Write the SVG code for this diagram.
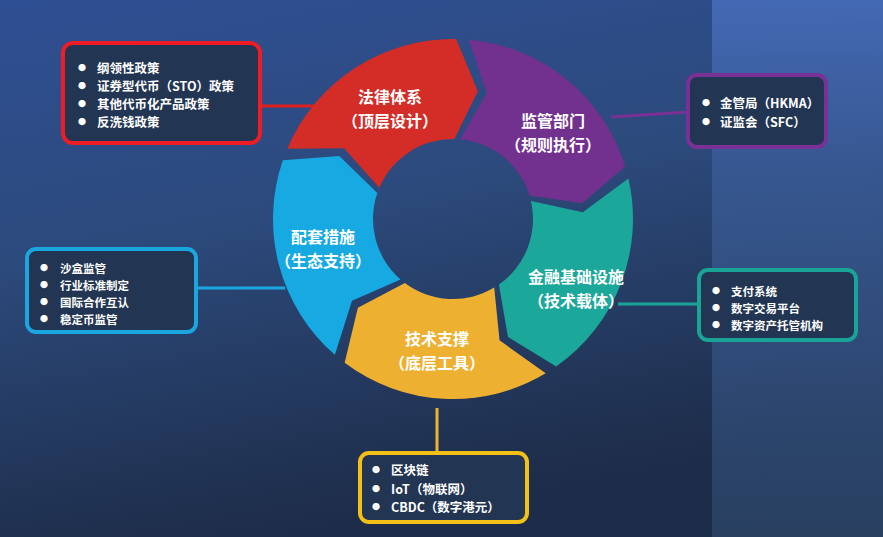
<svg xmlns="http://www.w3.org/2000/svg" width="883" height="537" viewBox="0 0 883 537">
<defs>
<linearGradient id="bg" x1="0" y1="0" x2="0.3" y2="1"><stop offset="0" stop-color="#2f4f94"/><stop offset="0.45" stop-color="#2c4a7c"/><stop offset="1" stop-color="#1d2c48"/></linearGradient>
<linearGradient id="bg2" x1="0" y1="0" x2="0" y2="1"><stop offset="0" stop-color="#4a70bf"/><stop offset="0.3" stop-color="#3a5c99"/><stop offset="1" stop-color="#2b4466"/></linearGradient>
<path id="seg" d="M0,-180 A180,180 0 0 1 166.9,-67.4 L127.2,-27 L74.2,-30 A80,80 0 0 0 0,-80 L22.6,-128 Z"/>
</defs>
<style>
.t{font-family:"Noto Sans CJK SC","Liberation Sans",sans-serif;font-weight:bold;fill:#fff}
.c{font-size:16px;text-anchor:middle}
.b{font-size:12.5px}
.s{font-size:11.5px}
.d{font-size:8px}
.box{fill:#223553;stroke-width:4}
.ln{stroke-width:3;fill:none}
</style>
<rect width="883" height="537" fill="url(#bg)"/>
<rect x="712" y="0" width="171" height="537" fill="url(#bg2)" opacity="0.8"/>
<g id="connectors">
<line class="ln" x1="260" y1="106" x2="333" y2="106" stroke="#e01e1e"/>
<line class="ln" x1="611" y1="117" x2="688" y2="112" stroke="#7a3196"/>
<line class="ln" x1="196" y1="288" x2="285" y2="288" stroke="#1aa7e0"/>
<line class="ln" x1="618" y1="304" x2="699" y2="304" stroke="#1aa397"/>
<line class="ln" x1="437" y1="408" x2="437" y2="453" stroke="#eeb22e"/>
</g>
<g transform="translate(453,219)">
<g id="law"><use href="#seg" transform="rotate(-67)" fill="#d42c27"/></g>
<g id="reg"><use href="#seg" transform="rotate(5)" fill="#72308f"/></g>
<g id="infra"><use href="#seg" transform="rotate(77)" fill="#1ba79a"/></g>
<g id="tech"><use href="#seg" transform="rotate(149)" fill="#edb030"/></g>
<g id="eco"><use href="#seg" transform="rotate(221)" fill="#17a9e1"/></g>
</g>
<text class="t c" x="390" y="103">法律体系</text><text class="t c" x="390" y="127">（顶层设计）</text>
<text class="t c" x="553" y="127">监管部门</text><text class="t c" x="553" y="151">（规则执行）</text>
<text class="t c" x="323" y="243">配套措施</text><text class="t c" x="323" y="267">（生态支持）</text>
<text class="t c" x="576" y="283">金融基础设施</text><text class="t c" x="576" y="307">（技术载体）</text>
<text class="t c" x="437" y="345">技术支撑</text><text class="t c" x="437" y="369">（底层工具）</text>
<g id="box-law"><rect class="box" x="63" y="43" width="197" height="100" rx="10" stroke="#ee1c24"/>
<g class="t d"><text x="78" y="71">●</text><text x="78" y="89">●</text><text x="78" y="107">●</text><text x="78" y="125">●</text></g>
<g class="t b"><text x="97" y="73">纲领性政策</text><text x="97" y="91">证券型代币（STO）政策</text><text x="97" y="109">其他代币化产品政策</text><text x="97" y="127">反洗钱政策</text></g></g>
<g id="box-reg"><rect class="box" x="688" y="75" width="138" height="72" rx="9" stroke="#7a3196"/>
<g class="t d"><text x="702" y="106">●</text><text x="702" y="125">●</text></g>
<g class="t b"><text x="720" y="108">金管局（HKMA）</text><text x="720" y="127">证监会（SFC）</text></g></g>
<g id="box-eco"><rect class="box" x="27" y="249" width="169" height="83" rx="9" stroke="#1aa7e0"/>
<g class="t d"><text x="40" y="271">●</text><text x="40" y="288">●</text><text x="40" y="305">●</text><text x="40" y="322">●</text></g>
<g class="t s"><text x="60" y="273">沙盒监管</text><text x="60" y="290">行业标准制定</text><text x="60" y="307">国际合作互认</text><text x="60" y="324">稳定币监管</text></g></g>
<g id="box-infra"><rect class="box" x="699" y="270" width="157" height="70" rx="9" stroke="#1aa397"/>
<g class="t d"><text x="712" y="294">●</text><text x="712" y="311">●</text><text x="712" y="328">●</text></g>
<g class="t s"><text x="731" y="296">支付系统</text><text x="731" y="313">数字交易平台</text><text x="731" y="330">数字资产托管机构</text></g></g>
<g id="box-tech"><rect class="box" x="360" y="453" width="167" height="69" rx="9" stroke="#f3c017"/>
<g class="t d"><text x="372" y="473">●</text><text x="372" y="492">●</text><text x="372" y="510">●</text></g>
<g class="t b"><text x="391" y="475">区块链</text><text x="391" y="494">IoT（物联网）</text><text x="391" y="512">CBDC（数字港元）</text></g></g>
</svg>
